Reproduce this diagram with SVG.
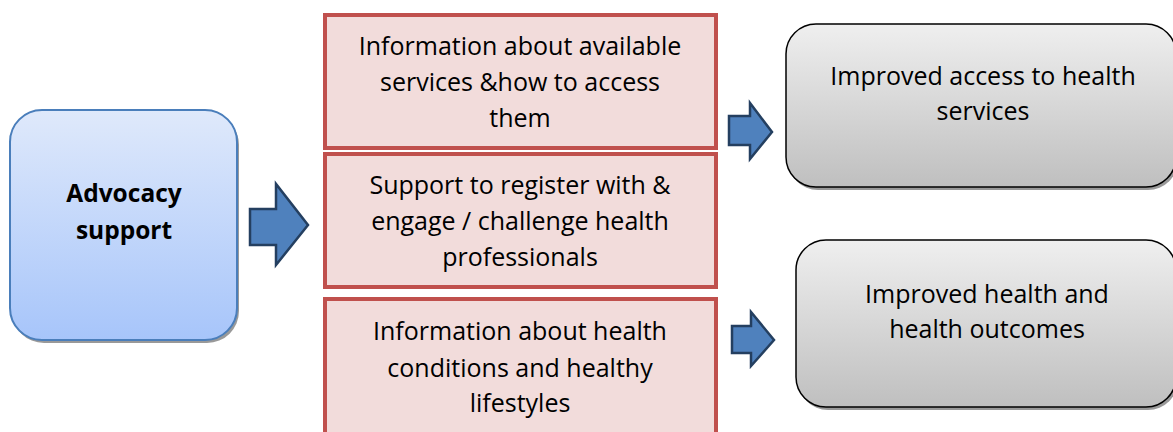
<svg xmlns="http://www.w3.org/2000/svg" width="1173" height="432" viewBox="0 0 1173 432">
  <defs>
    <linearGradient id="blueFill" x1="0" y1="0" x2="0" y2="1">
      <stop offset="0" stop-color="#dfe9fb"/>
      <stop offset="1" stop-color="#a7c5fa"/>
    </linearGradient>
    <linearGradient id="greyFill" x1="0" y1="0" x2="0" y2="1">
      <stop offset="0" stop-color="#efefef"/>
      <stop offset="1" stop-color="#bfbfbf"/>
    </linearGradient>
    <style>
      .label { font-family: "Open Sans", "Liberation Sans", sans-serif; font-size: 25px; fill: #000; text-anchor: middle; }
      .bold { font-weight: bold; font-size: 24.5px; }
      .shadow { fill: #808080; opacity: 0.8; }
      .start { fill: url(#blueFill); stroke: #4a7ebb; stroke-width: 2; }
      .step { fill: #f2dcdb; stroke: #c0504d; stroke-width: 4; }
      .outcome { fill: url(#greyFill); stroke: #000; stroke-width: 1.5; }
      .arrow { fill: #4f81bd; stroke: #243f60; stroke-width: 2.5; stroke-linejoin: miter; }
    </style>
  </defs>

  <!-- starting node -->
  <g id="advocacy">
    <rect class="shadow" x="12" y="113" width="227" height="230" rx="32"/>
    <rect class="start" x="10" y="110" width="227" height="230" rx="32"/>
    <text class="label bold" x="124" y="202">Advocacy</text>
    <text class="label bold" x="124" y="239">support</text>
  </g>

  <!-- support activities -->
  <g id="info-services">
    <rect class="step" x="325" y="15" width="391" height="133"/>
    <text class="label" x="520" y="55">Information about available</text>
    <text class="label" x="520" y="91">services &amp;how to access</text>
    <text class="label" x="520" y="127">them</text>
  </g>
  <g id="register-engage">
    <rect class="step" x="325" y="154" width="391" height="133"/>
    <text class="label" x="520" y="194">Support to register with &amp;</text>
    <text class="label" x="520" y="230">engage / challenge health</text>
    <text class="label" x="520" y="266">professionals</text>
  </g>
  <g id="info-conditions">
    <rect class="step" x="325" y="299" width="391" height="140"/>
    <text class="label" x="520" y="340">Information about health</text>
    <text class="label" x="520" y="377">conditions and healthy</text>
    <text class="label" x="520" y="412">lifestyles</text>
  </g>

  <!-- outcomes -->
  <g id="access-outcome">
    <rect class="shadow" x="788" y="27" width="390" height="163" rx="30"/>
    <rect class="outcome" x="786" y="24" width="390" height="163" rx="30"/>
    <text class="label" x="983" y="85">Improved access to health</text>
    <text class="label" x="983" y="120">services</text>
  </g>
  <g id="health-outcome">
    <rect class="shadow" x="798" y="243" width="380" height="167" rx="30"/>
    <rect class="outcome" x="796" y="240" width="380" height="167" rx="30"/>
    <text class="label" x="987" y="303">Improved health and</text>
    <text class="label" x="987" y="338">health outcomes</text>
  </g>

  <!-- connectors -->
  <g id="connectors">
    <polygon class="arrow" points="250,209 276,209 276,184 308,225 276,265 276,245 250,245"/>
    <polygon class="arrow" points="729,116 750,116 750,103 772,132 750,159 750,145 729,145"/>
    <polygon class="arrow" points="732,326 751,326 751,312 774,340 751,366 751,353 732,353"/>
  </g>
</svg>
